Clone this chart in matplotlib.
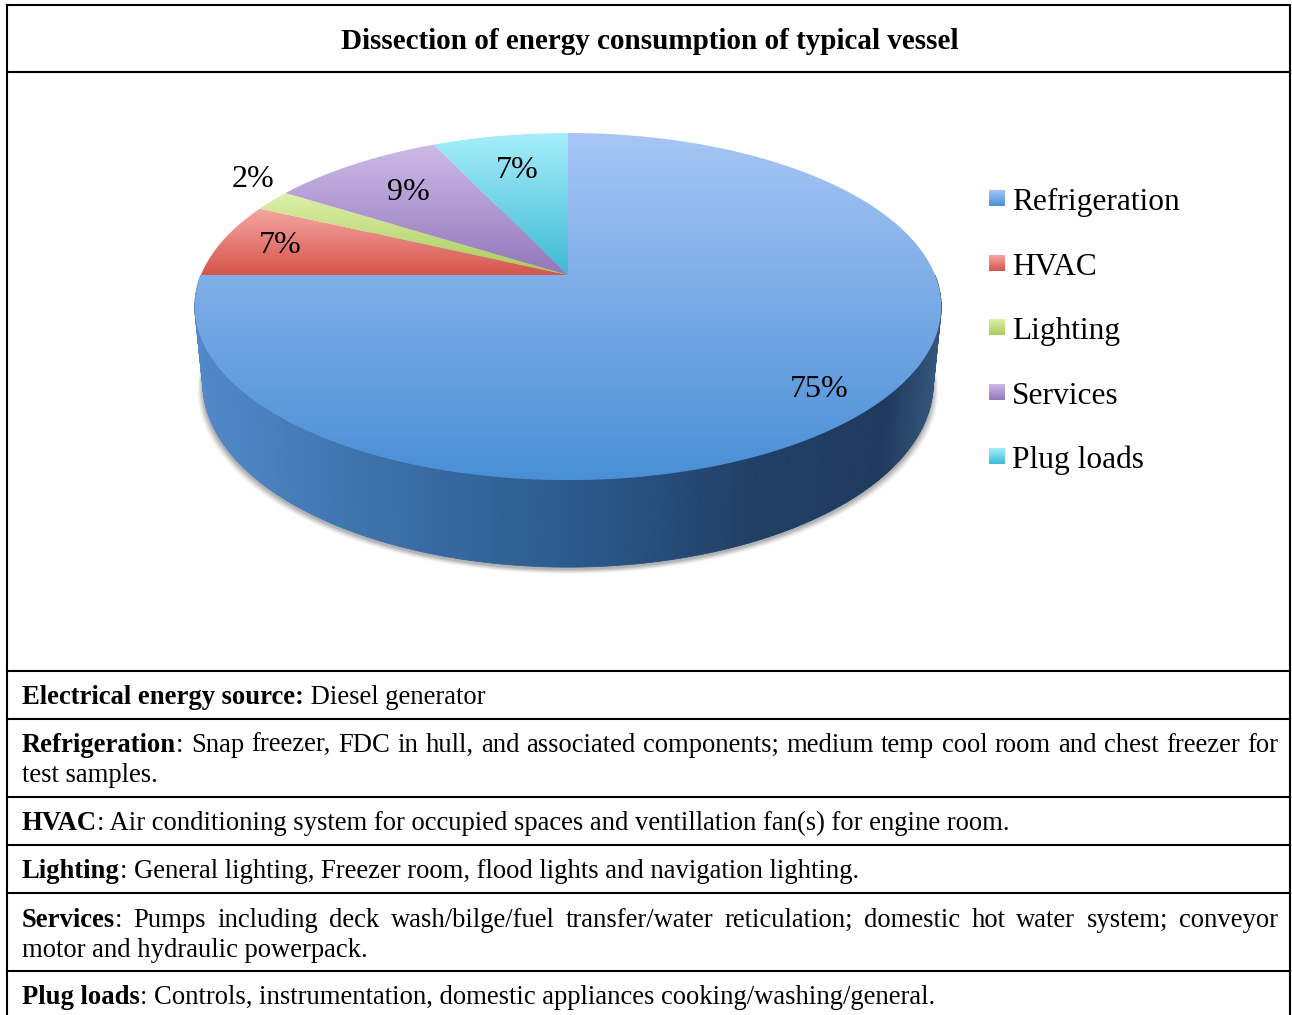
import numpy as np
import matplotlib.pyplot as plt
from matplotlib.patches import Polygon
from matplotlib.colors import LinearSegmentedColormap, to_rgb

# ---- data ----
categories = ["Refrigeration", "HVAC", "Lighting", "Services", "Plug loads"]
shares = [75, 7, 2, 9, 7]

title = "Dissection of energy consumption of typical vessel"
row_heads = ["Electrical energy source:", "Refrigeration", "HVAC", "Lighting",
             "Services", "Plug loads"]
row_bodies = [
    " Diesel generator",
    ": Snap freezer, FDC in hull, and associated components; medium temp cool room and chest freezer for\n"
    "test samples.",
    ": Air conditioning system for occupied spaces and ventillation fan(s) for engine room.",
    ": General lighting, Freezer room, flood lights and navigation lighting.",
    ": Pumps including deck wash/bilge/fuel transfer/water reticulation; domestic hot water system; conveyor\n"
    "motor and hydraulic powerpack.",
    ": Controls, instrumentation, domestic appliances cooking/washing/general.",
]

# ---- style ----
SERIF = ["Liberation Serif", "DejaVu Serif"]
top_light = ["#a6c6f5", "#f6a7a3", "#ddf0a8", "#cdbae8", "#a6eefa"]
top_dark = ["#4a8fd6", "#d5544b", "#a8cb5c", "#9377ba", "#3fb9d6"]
label_r = [0.86, 0.83, 1.07, 0.72, 0.72]
side_cmap = LinearSegmentedColormap.from_list(
    "side", [(0, "#5189c9"), (0.25, "#3b70a9"), (0.5, "#2c5b8d"),
             (0.75, "#213f66"), (0.93, "#1f3a5d"), (1, "#34557b")])

# perspective of the 3d pie
CX, CY = 568, 275
KX, KY = 367.0, 371.5
L = 4.91
SA = 0.4516
CA = np.sqrt(1 - SA ** 2)
THICK = 0.234


def project(px, py, pz):
    vx = px
    vy = py + L * CA
    vz = pz - L * SA
    depth = vy * CA - vz * SA
    w = vy * SA + vz * CA
    return CX + KX * L * vx / depth, CY - KY * L * w / depth


def ring(phi, r=1.0, z=0.0):
    sx, sy = project(r * np.cos(phi), r * np.sin(phi), np.full_like(phi, z))
    return np.column_stack([sx, sy])


def gradient_fill(ax, poly_xy, c_top, c_bot, zorder=2):
    x0, y0 = poly_xy.min(axis=0)
    x1, y1 = poly_xy.max(axis=0)
    t = np.linspace(0, 1, 256)
    c0, c1 = np.array(to_rgb(c_top)), np.array(to_rgb(c_bot))
    grad = c0[None, :] * (1 - t[:, None]) + c1[None, :] * t[:, None]
    im = ax.imshow(grad[:, None, :], extent=(x0, x1, y1, y0), origin="upper",
                   aspect="auto", interpolation="bilinear", zorder=zorder)
    clip = Polygon(poly_xy, closed=True, transform=ax.transData)
    im.set_clip_path(clip)
    return im


fig = plt.figure(figsize=(12.92, 10.15), dpi=100)
ax = fig.add_axes([0, 0, 1, 1])
ax.axis("off")

# ---- shadow under the pie ----
phi_all = np.linspace(0, 2 * np.pi, 400)
base = ring(phi_all, 1.0, -THICK)
for k, a in zip(range(6, 0, -1), [0.03, 0.04, 0.05, 0.06, 0.07, 0.08]):
    sh = base.copy()
    sh[:, 0] = CX + (sh[:, 0] - CX) * (1 + k * 0.0025)
    sh[:, 1] = sh[:, 1] + k * 0.8 + 2
    ax.add_patch(Polygon(sh, closed=True, facecolor="#000000", alpha=a,
                         edgecolor="none", zorder=1))

# ---- side wall ----
phis = np.radians(np.linspace(180, 360, 181))
quads = []
for p0, p1 in zip(phis[:-1], phis[1:]):
    seg = np.array([p0, p1])
    top = ring(seg, 1.0, 0.0)
    bot = ring(seg, 1.0, -THICK)
    q = np.vstack([top, bot[::-1]])
    quads.append((np.sin((p0 + p1) / 2), q))
quads.sort(key=lambda d: -d[0])
for _, q in quads:
    frac = (q[:, 0].mean() - (CX - KX)) / (2 * KX)
    col = side_cmap(np.clip(frac, 0, 1))
    ax.add_patch(Polygon(q, closed=True, facecolor=col, edgecolor=col,
                         lw=0.6, zorder=2))

# ---- top face slices ----
total = sum(shares)
start = 90.0
apex = np.array(project(0.0, 0.0, 0.0))
for i, v in enumerate(shares):
    sweep = 360.0 * v / total
    a0, a1 = start, start - sweep
    start = a1
    arc = ring(np.radians(np.linspace(a0, a1, max(int(sweep * 2), 8))))
    poly = np.vstack([apex, arc])
    gradient_fill(ax, poly, top_light[i], top_dark[i], zorder=3)

    mid = np.radians((a0 + a1) / 2)
    lx, ly = project(label_r[i] * np.cos(mid), label_r[i] * np.sin(mid), 0.0)
    outside = label_r[i] > 1
    ax.text(lx, ly + (-2 if outside else 0), f"{v}%", fontsize=23,
            family=SERIF, ha="center", va="bottom" if outside else "center",
            color="black", zorder=5)

# ---- legend ----
leg_y = [210, 275, 339, 404, 468]
for i, name in enumerate(categories):
    sq = np.array([[989, leg_y[i] - 20], [1005, leg_y[i] - 20],
                   [1005, leg_y[i] - 4], [989, leg_y[i] - 4]])
    gradient_fill(ax, sq, top_light[i], top_dark[i], zorder=3)
    ax.text(1012, leg_y[i], name, fontsize=22.6, family=SERIF,
            ha="left", va="baseline", zorder=5)

# ---- table frame ----
lw = 1.5
for y in [5, 72, 671, 719, 797, 845, 893, 971]:
    ax.plot([7, 1290], [y, y], color="black", lw=lw, solid_capstyle="projecting", zorder=6)
for x in [7, 1290]:
    ax.plot([x, x], [5, 1030], color="black", lw=lw, zorder=6)

ax.text(650, 49, title, fontsize=21, family=SERIF, weight="bold",
        ha="center", va="baseline")

# ---- table rows ----
renderer = fig.canvas.get_renderer()
BODY = 19.2


def width_of(s, bold):
    t = ax.text(0, 0, s, fontsize=BODY, family=SERIF,
                weight="bold" if bold else "normal")
    w = t.get_window_extent(renderer).width
    t.remove()
    return w


def put(x, y, s, bold):
    ax.text(x, y, s, fontsize=BODY, family=SERIF,
            weight="bold" if bold else "normal", ha="left", va="baseline")


X_LEFT, X_RIGHT = 22, 1278
line_base = [[704], [752, 782], [830], [878], [927, 957], [1004]]

for r, (head, body) in enumerate(zip(row_heads, row_bodies)):
    lines = body.split("\n")
    for j, line in enumerate(lines):
        y = line_base[r][j]
        justify = j < len(lines) - 1
        if not justify:
            if j == 0:
                put(X_LEFT, y, head, True)
                put(X_LEFT + width_of(head, True), y, line, False)
            else:
                put(X_LEFT, y, line, False)
            continue
        words = []
        if j == 0:
            for hw in head.split():
                words.append([(hw, True)])
            if line.startswith(":"):
                first, _, line = line.partition(" ")
                words[-1].append((first, False))
        words += [[(w, False)] for w in line.split()]
        widths = [sum(width_of(s, b) for s, b in wd) for wd in words]
        gap = (X_RIGHT - X_LEFT - sum(widths)) / (len(words) - 1)
        x = X_LEFT
        for wd, ww in zip(words, widths):
            xx = x
            for s, b in wd:
                put(xx, y, s, b)
                xx += width_of(s, b)
            x += ww + gap

ax.set_xlim(0, 1292)
ax.set_ylim(1015, 0)
fig.savefig("out.png", dpi=100)
